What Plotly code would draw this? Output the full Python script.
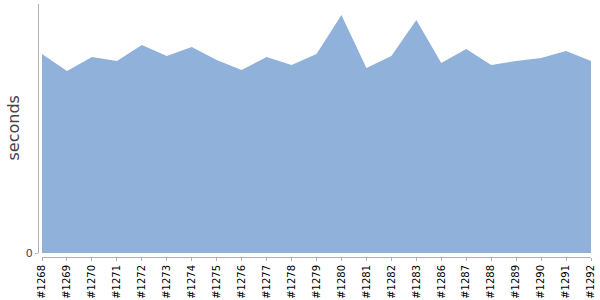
import plotly.graph_objects as go

builds = ["#1268", "#1269", "#1270", "#1271", "#1272", "#1273", "#1274", "#1275",
          "#1276", "#1277", "#1278", "#1279", "#1280", "#1281", "#1282", "#1283",
          "#1286", "#1287", "#1288", "#1289", "#1290", "#1291", "#1292"]
seconds = [19.9, 18.2, 19.6, 19.2, 20.8, 19.7, 20.6, 19.3,
           18.3, 19.6, 18.8, 19.9, 23.8, 18.5, 19.7, 23.3,
           19.0, 20.4, 18.8, 19.2, 19.5, 20.2, 19.2]
y_max = 24.9

W, H = 600, 300
fig = go.Figure()
fig.add_trace(go.Scatter(
    x=builds, y=seconds, mode="lines", fill="tozeroy",
    fillcolor="#8fb1da", line=dict(width=0, color="#8fb1da"),
    hoverinfo="x+y", showlegend=False,
))

fig.update_layout(
    width=W, height=H, margin=dict(l=0, r=0, t=0, b=0),
    paper_bgcolor="white", plot_bgcolor="white",
    font=dict(family="DejaVu Sans", size=10, color="#000"),
    xaxis=dict(
        type="category", domain=[42 / W, 591 / W], range=[0, len(builds) - 1],
        anchor="free", position=(H - 257) / H,
        showline=True, linecolor="#b0b0b0", linewidth=1,
        ticks="outside", ticklen=3, tickcolor="#b0b0b0", tickwidth=1,
        ticklabelstandoff=0,
        tickangle=-90, tickfont=dict(family="DejaVu Sans", size=10, color="#000"),
        showgrid=False, zeroline=False, automargin=False,
    ),
    yaxis=dict(
        domain=[(H - 253) / H, (H - 4) / H], range=[0, y_max],
        anchor="free", position=38 / W,
        showline=True, linecolor="#b0b0b0", linewidth=1,
        ticks="outside", ticklen=3, tickcolor="#b0b0b0", tickwidth=1,
        tickvals=[0], ticktext=["0"],
        tickfont=dict(family="DejaVu Sans", size=11, color="#444"),
        showgrid=False, zeroline=False, automargin=False,
    ),
    annotations=[dict(
        text="seconds", xref="paper", yref="paper", x=13 / W, y=(H - 128.5) / H,
        showarrow=False, textangle=-90, xanchor="center", yanchor="middle",
        font=dict(family="DejaVu Sans", size=16, color="#444"),
    )],
)

fig.write_html("out.html")
